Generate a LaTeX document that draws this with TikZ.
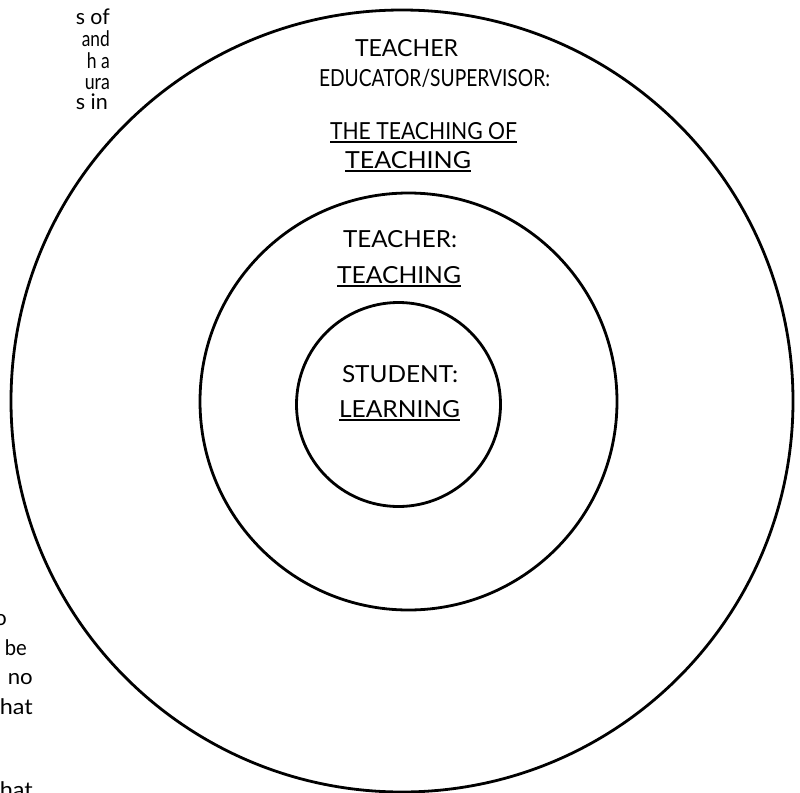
\documentclass[tikz,border=0pt]{standalone}
\usepackage{fontspec}
\setmainfont{Lato}
\newcommand\myul[1]{\setbox0\hbox{#1}\rlap{\rule[-4pt]{\wd0}{1.8pt}}\box0}
\newcommand\fitw[2]{\resizebox{#1pt}{\height}{#2}}
\begin{document}
\begin{tikzpicture}[x=1pt,y=-1pt,
  ring/.style={draw=black,line width=2.8pt},
  lab/.style={anchor=base,inner sep=0pt,font=\fontsize{23.5}{27}\selectfont},
  frag/.style={anchor=base east,inner sep=0pt,font=\fontsize{21.5}{25}\selectfont}]
\useasboundingbox (0,0) rectangle (800,792);
\clip (0,0) rectangle (800,792);
\fill[white] (0,0) rectangle (800,792);
% circles
\node[ring,circle,minimum size=782pt,inner sep=0pt] (outer) at (402,401) {};
\node[ring,circle,minimum size=417pt,inner sep=0pt] (middle) at (408.5,401.5) {};
\node[ring,circle,minimum size=204pt,inner sep=0pt] (inner) at (398.5,404.5) {};
% outer labels
\node[lab] (t1) at (406.5,57) {\fitw{103}{TEACHER}};
\node[lab] (t2) at (434.5,87) {\fitw{231}{EDUCATOR/SUPERVISOR:}};
\node[lab] (t3) at (423.5,139) {\fitw{187}{\myul{THE TEACHING OF}}};
\node[lab] (t4) at (408,168) {\fitw{126}{\myul{TEACHING}}};
% middle labels
\node[lab] (m1) at (400,247) {\fitw{114}{TEACHER:}};
\node[lab] (m2) at (399,283) {\fitw{124}{\myul{TEACHING}}};
% inner labels
\node[lab] (s1) at (400,382) {\fitw{116}{STUDENT:}};
\node[lab] (s2) at (399.5,417) {\fitw{121}{\myul{LEARNING}}};
% text fragments from the surrounding page
\node[frag] (f1) at (110,25) {\fitw{34}{s of}};
\node[frag] (f2) at (110,46) {\fitw{28}{and}};
\node[frag] (f3) at (110,68) {\fitw{23}{h a}};
\node[frag] (f4) at (110,89) {\fitw{25}{ura}};
\node[frag] (f5) at (108,110) {\fitw{32}{s in}};
\node[frag] (g1) at (7,625) {o};
\node[frag] (g2) at (27,655) {\fitw{22}{be}};
\node[frag] (g3) at (33,684) {\fitw{25}{no}};
\node[frag] (g4) at (33,714) {\fitw{33}{hat}};
\node[frag] (g5) at (33,797) {\fitw{33}{hat}};
\end{tikzpicture}
\end{document}
